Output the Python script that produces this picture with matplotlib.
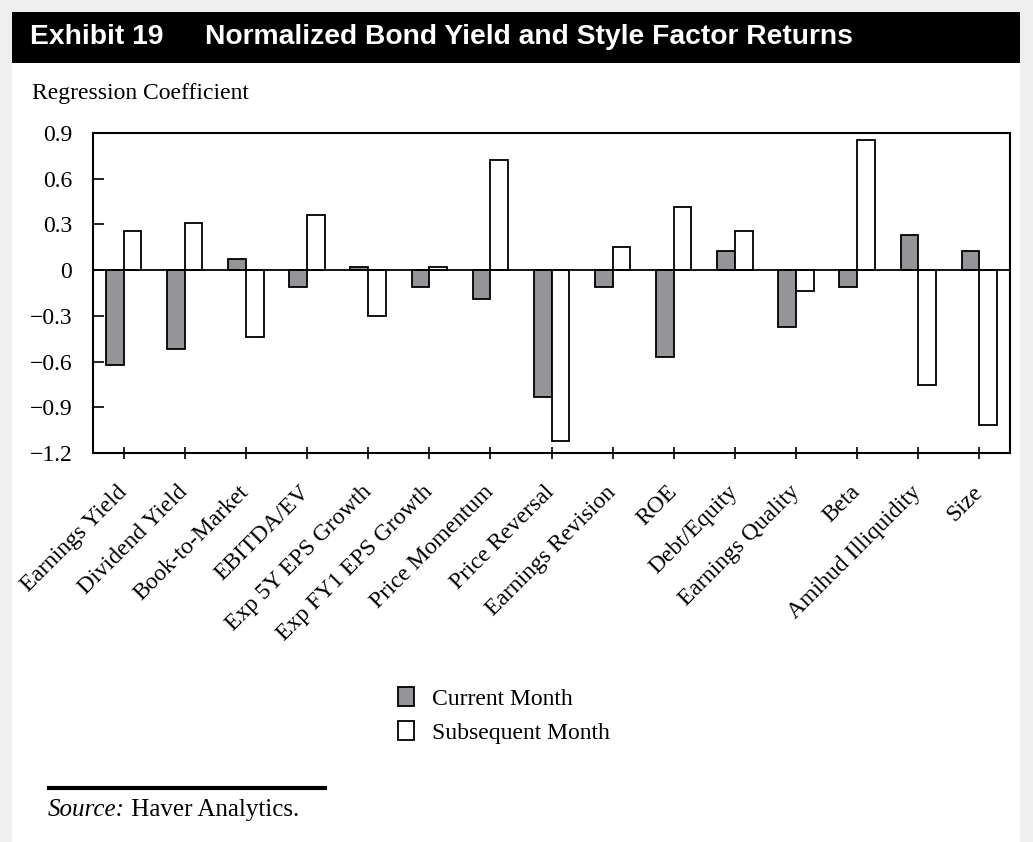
import numpy as np
import matplotlib.pyplot as plt
from matplotlib.patches import Rectangle, Patch
from matplotlib.lines import Line2D
from matplotlib.text import Annotation

factors = ["Earnings Yield", "Dividend Yield", "Book-to-Market", "EBITDA/EV",
           "Exp 5Y EPS Growth", "Exp FY1 EPS Growth", "Price Momentum",
           "Price Reversal", "Earnings Revision", "ROE", "Debt/Equity",
           "Earnings Quality", "Beta", "Amihud Illiquidity", "Size"]
current_month = [-0.625, -0.52, 0.075, -0.11, 0.023, -0.11, -0.19,
                 -0.83, -0.11, -0.57, 0.128, -0.373, -0.11, 0.233, 0.128]
subsequent_month = [0.26, 0.31, -0.44, 0.364, -0.30, 0.02, 0.72,
                    -1.12, 0.154, 0.417, 0.26, -0.137, 0.852, -0.756, -1.014]
y_ticks = [0.9, 0.6, 0.3, 0, -0.3, -0.6, -0.9, -1.2]
y_tick_labels = ["0.9", "0.6", "0.3", "0", "\u22120.3", "\u22120.6", "\u22120.9", "\u22121.2"]

serif = ["Liberation Serif", "DejaVu Serif"]
plt.rcParams["font.family"] = serif
fs = 17

W, H = 1033, 842
fig = plt.figure(figsize=(W / 100, H / 100), dpi=100)
fig.patch.set_facecolor("#efefef")

# white page and black title bar
fig.patches.append(Rectangle((12 / W, 0), 1008 / W, 830 / H, transform=fig.transFigure,
                             facecolor="white", edgecolor="none", zorder=-2))
fig.patches.append(Rectangle((12 / W, 1 - 63 / H), 1008 / W, 51 / H, transform=fig.transFigure,
                             facecolor="black", edgecolor="none", zorder=-1))
title_font = ["Liberation Sans Narrow", "Liberation Sans", "DejaVu Sans"]
fig.text(30 / W, 1 - 37 / H, "Exhibit 19", color="white", fontsize=20.3, fontweight="bold",
         family=title_font, va="center", ha="left")
fig.text(205 / W, 1 - 37 / H, "Normalized Bond Yield and Style Factor Returns", color="white",
         fontsize=20.3, fontweight="bold", family=title_font, va="center", ha="left")

fig.text(32 / W, 1 - 93 / H, "Regression Coefficient", fontsize=fs, va="center", ha="left")

ax = fig.add_axes([93 / W, 1 - 453 / H, 917 / W, 320 / H])
ax.set_zorder(2)
x = np.arange(len(factors))
w = 0.29
ax.bar(x - w / 2, current_month, width=w, color="#939598", edgecolor="black", linewidth=1.3,
       label="Current Month", zorder=2)
ax.bar(x + w / 2, subsequent_month, width=w, color="white", edgecolor="black", linewidth=1.3,
       label="Subsequent Month", zorder=2)
ax.axhline(0, color="black", linewidth=1.3, zorder=3)

ax.set_xlim(-0.5, len(factors) - 0.5)
ax.set_ylim(-1.2, 0.9)
ax.set_yticks(y_ticks)
ax.set_yticklabels(y_tick_labels, fontsize=fs)
ax.tick_params(axis="y", direction="in", length=8, width=1.2, pad=15)
ax.set_xticks(x)
ax.set_xticklabels(factors, rotation=45, ha="right", va="center", rotation_mode="anchor",
                   fontsize=fs)
ax.tick_params(axis="x", direction="inout", length=8, width=1.2, pad=22)
for s in ax.spines.values():
    s.set_linewidth(1.5)

# legend
handles = [Patch(facecolor="#939598", edgecolor="black", linewidth=1.3),
           Patch(facecolor="white", edgecolor="black", linewidth=1.3)]
fig.legend(handles, ["Current Month", "Subsequent Month"], loc="upper left",
           bbox_to_anchor=(389 / W, 1 - 678 / H), frameon=False, fontsize=fs,
           handlelength=0.65, handleheight=0.85, handletextpad=0.75, labelspacing=0.48,
           borderaxespad=0)

# source line
fig.lines.append(Line2D([49 / W, 325 / W], [1 - 788 / H, 1 - 788 / H], transform=fig.transFigure,
                        color="black", linewidth=3))
src = fig.text(48 / W, 1 - 810 / H, "Source:", fontsize=18, style="italic", va="center", ha="left")
fig.add_artist(Annotation(" Haver Analytics.", xy=(1, 0.5), xycoords=src, fontsize=18,
                          va="center", ha="left"))

fig.savefig("out.png", dpi=100, facecolor=fig.get_facecolor())
